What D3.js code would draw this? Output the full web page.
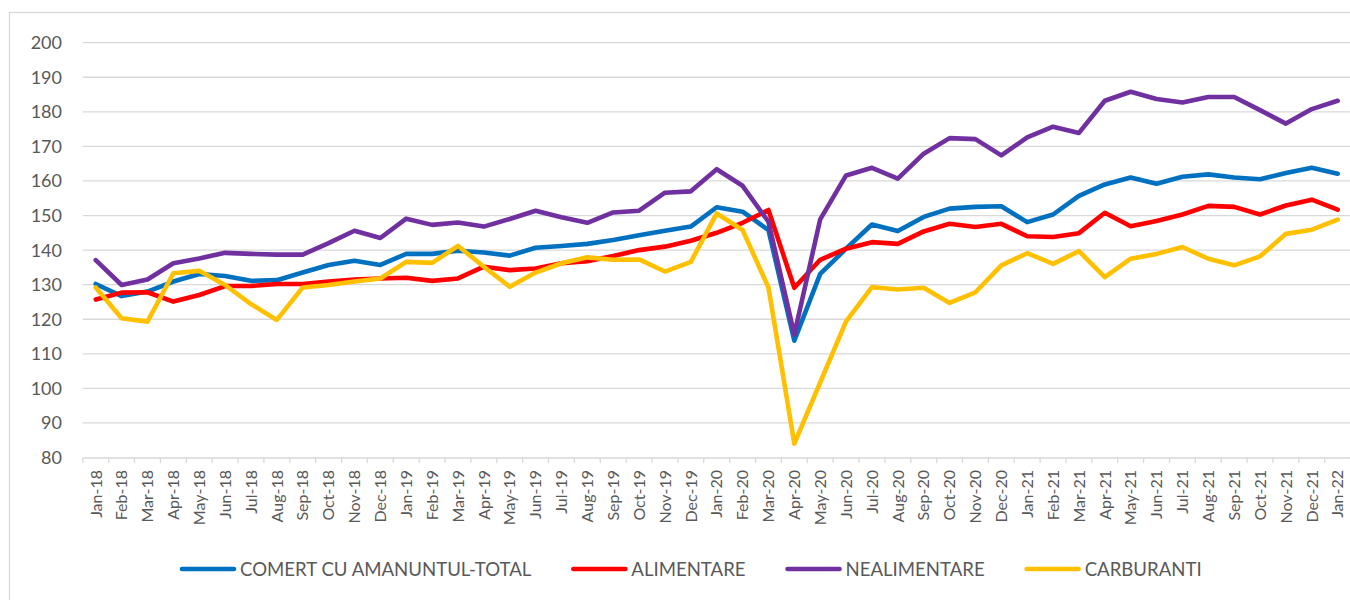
<!DOCTYPE html>
<html>
<head>
<meta charset="utf-8">
<script src="https://cdn.jsdelivr.net/npm/d3@7"></script>
<style>
  html, body { margin: 0; padding: 0; background: #fff; }
  svg { display: block; }
</style>
</head>
<body>
<svg id="chart" width="1350" height="600"></svg>
<script>
const months = ["Jan-18","Feb-18","Mar-18","Apr-18","May-18","Jun-18","Jul-18","Aug-18","Sep-18","Oct-18","Nov-18","Dec-18",
  "Jan-19","Feb-19","Mar-19","Apr-19","May-19","Jun-19","Jul-19","Aug-19","Sep-19","Oct-19","Nov-19","Dec-19",
  "Jan-20","Feb-20","Mar-20","Apr-20","May-20","Jun-20","Jul-20","Aug-20","Sep-20","Oct-20","Nov-20","Dec-20",
  "Jan-21","Feb-21","Mar-21","Apr-21","May-21","Jun-21","Jul-21","Aug-21","Sep-21","Oct-21","Nov-21","Dec-21",
  "Jan-22"];

const comertTotal = [130.2,126.7,128.0,130.9,133.1,132.5,131.1,131.3,133.5,135.7,136.9,135.7,
  138.9,138.9,139.8,139.3,138.4,140.7,141.2,141.8,142.9,144.3,145.6,146.8,
  152.4,151.1,145.8,113.8,133.1,140.4,147.4,145.5,149.6,152.0,152.5,152.7,
  148.1,150.3,155.7,159.0,161.0,159.2,161.2,161.9,161.0,160.5,162.3,163.8,
  162.1];

const alimentare = [125.7,127.7,127.8,125.1,127.0,129.6,129.6,130.2,130.2,130.9,131.5,131.8,
  132.0,131.1,131.8,135.2,134.2,134.7,136.2,136.8,138.3,140.0,141.0,142.7,
  145.0,147.9,151.6,129.1,137.2,140.4,142.3,141.8,145.4,147.6,146.7,147.6,
  144.0,143.8,144.9,150.8,146.9,148.4,150.3,152.8,152.5,150.3,152.9,154.6,
  151.7];

const nealimentare = [137.1,129.9,131.5,136.2,137.6,139.2,138.9,138.7,138.7,142.0,145.6,143.5,
  149.1,147.3,148.0,146.8,149.0,151.4,149.5,147.9,150.9,151.4,156.6,157.0,
  163.4,158.6,148.2,115.6,148.9,161.6,163.8,160.7,167.9,172.4,172.1,167.4,
  172.6,175.7,173.9,183.2,185.8,183.7,182.7,184.3,184.3,180.5,176.6,180.8,
  183.2];

const carburanti = [129.2,120.3,119.3,133.3,134.0,129.9,124.4,119.8,129.2,129.9,130.9,131.8,
  136.6,136.3,141.2,135.2,129.4,133.5,136.2,137.9,137.2,137.3,133.8,136.6,
  150.6,145.8,129.2,84.0,101.7,119.4,129.3,128.6,129.1,124.7,127.8,135.6,
  139.1,136.0,139.7,132.2,137.5,138.9,140.9,137.5,135.6,138.2,144.7,145.9,
  148.8];

const yTicks = [80,90,100,110,120,130,140,150,160,170,180,190,200];

const seriesNames = ["COMERT CU AMANUNTUL-TOTAL","ALIMENTARE","NEALIMENTARE","CARBURANTI"];
const seriesColors = ["#0070C0","#FF0000","#7030A0","#FFC000"];
const seriesValues = [comertTotal, alimentare, nealimentare, carburanti];

const svg = d3.select("#chart");
const font = "Lato, 'Open Sans', sans-serif";
const textColor = "#595959";
const gridColor = "#d9d9d9";

// outer chart border
svg.append("rect")
  .attr("x", 9.5).attr("y", 12.5)
  .attr("width", 1360).attr("height", 600)
  .attr("fill", "none").attr("stroke", gridColor).attr("stroke-width", 1.3);

const x = d3.scaleBand().domain(months).range([82.8, 1350.6]).padding(0);
const y = d3.scaleLinear().domain([80, 200]).range([457.5, 42.7]);
const cx = m => x(m) + x.bandwidth() / 2;

// gridlines (excluding axis line at 80)
svg.append("g").selectAll("line")
  .data(yTicks.filter(t => t !== 80))
  .join("line")
  .attr("x1", 82.8).attr("x2", 1350.6)
  .attr("y1", d => y(d)).attr("y2", d => y(d))
  .attr("stroke", gridColor).attr("stroke-width", 1.3);

// y labels
svg.append("g").selectAll("text")
  .data(yTicks)
  .join("text")
  .attr("x", 62).attr("y", d => y(d))
  .attr("dy", "0.36em")
  .attr("text-anchor", "end")
  .attr("font-family", font).attr("font-size", 18)
  .attr("fill", textColor)
  .text(d => d);

// x axis
const xAxis = d3.axisBottom(x).tickSize(0).tickFormat("");
const gx = svg.append("g").attr("transform", `translate(0,${y(80)})`).call(xAxis);
gx.select(".domain").attr("stroke", gridColor).attr("stroke-width", 1.3);
// tick marks at band boundaries
const bounds = months.map(m => x(m)).concat([x(months[months.length - 1]) + x.bandwidth()]);
svg.append("g").selectAll("line")
  .data(bounds)
  .join("line")
  .attr("x1", d => d).attr("x2", d => d)
  .attr("y1", y(80)).attr("y2", y(80) + 5.5)
  .attr("stroke", gridColor).attr("stroke-width", 1.3);

// x labels
svg.append("g").selectAll("text")
  .data(months)
  .join("text")
  .attr("transform", d => `translate(${cx(d)},470) rotate(-90)`)
  .attr("dy", "0.36em")
  .attr("text-anchor", "end")
  .attr("font-family", font).attr("font-size", 16)
  .attr("fill", textColor)
  .text(d => d);

// lines
const line = d3.line()
  .x((d, i) => cx(months[i]))
  .y(d => y(d))
  .curve(d3.curveLinear);

seriesValues.forEach((vals, si) => {
  svg.append("path")
    .datum(vals)
    .attr("d", line)
    .attr("fill", "none")
    .attr("stroke", seriesColors[si])
    .attr("stroke-width", 4.6)
    .attr("stroke-linejoin", "round")
    .attr("stroke-linecap", "round");
});

// legend
const legend = svg.append("g");
let lx = 180;
const ly = 569;
seriesNames.forEach((name, i) => {
  legend.append("line")
    .attr("x1", lx + 2).attr("x2", lx + 54)
    .attr("y1", ly).attr("y2", ly)
    .attr("stroke", seriesColors[i]).attr("stroke-width", 4.6)
    .attr("stroke-linecap", "round");
  const t = legend.append("text")
    .attr("x", lx + 60).attr("y", ly)
    .attr("dy", "0.36em")
    .attr("font-family", font).attr("font-size", 18.6)
    .attr("fill", textColor)
    .text(name);
  const w = t.node().getComputedTextLength();
  lx = lx + 60 + w + 40;
});
</script>
</body>
</html>
